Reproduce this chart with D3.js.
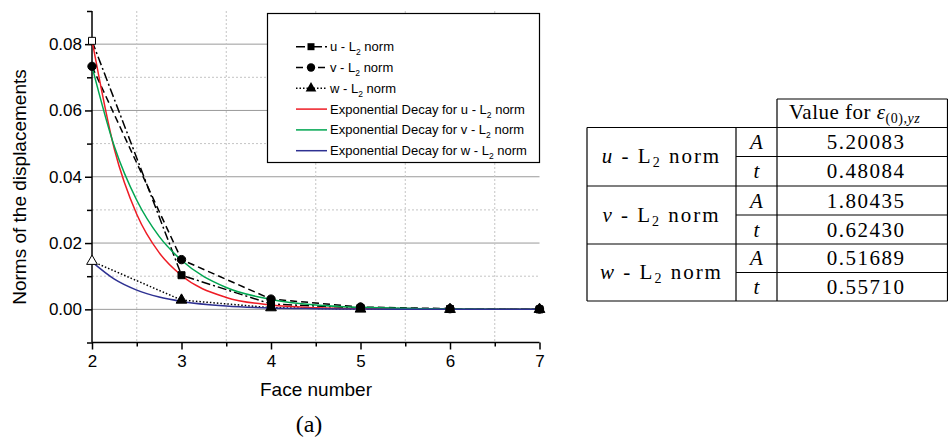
<!DOCTYPE html>
<html>
<head>
<meta charset="utf-8">
<script src="https://cdn.jsdelivr.net/npm/d3@7"></script>
<style>
  body { margin: 0; background: #fff; }
  svg { display: block; }
</style>
</head>
<body>
<svg id="chart" width="948" height="443"></svg>
<script>
// measured face data
var faces = [2, 3, 4, 5, 6, 7];
var uNorm = [0.0810, 0.0103, 0.0016, 0.0004, 0.0001, 0.0000];
var vNorm = [0.0733, 0.0150, 0.0031, 0.0007, 0.0002, 0.0001];
var wNorm = [0.0145, 0.0028, 0.0005, 0.0001, 0.0000, 0.0000];

// exponential decay curves
var fitX = [2, 2.25, 2.5, 2.75, 3, 3.5, 4, 4.5, 5, 6, 7];
var uFit = [0.0812, 0.0483, 0.0287, 0.0171, 0.0102, 0.0036, 0.0013, 0.0005, 0.0002, 0.0000, 0.0000];
var vFit = [0.0733, 0.0491, 0.0329, 0.0220, 0.0148, 0.0066, 0.0030, 0.0013, 0.0006, 0.0001, 0.0000];
var wFit = [0.0143, 0.0091, 0.0058, 0.0037, 0.0024, 0.0010, 0.0004, 0.0002, 0.0001, 0.0000, 0.0000];

var yMajor = [0.00, 0.02, 0.04, 0.06, 0.08];
var yMinor = [-0.01, 0.01, 0.03, 0.05, 0.07, 0.09];
var xMajor = [2, 3, 4, 5, 6, 7];
var xMinor = [2.5, 3.5, 4.5, 5.5, 6.5];

// table
var tableRows = ["u", "v", "w"];
var tableParams = ["A", "t"];
var tableValues = [["5.20083", "0.48084"], ["1.80435", "0.62430"], ["0.51689", "0.55710"]];

var svg = d3.select("#chart");

var x = d3.scaleLinear().domain([2, 7]).range([92, 539.5]);
var y = d3.scaleLinear().domain([-0.01, 0.09]).range([342.5, 11]);

// grid
var grid = svg.append("g");
grid.selectAll("line.hmaj").data(yMajor).enter().append("line")
    .attr("x1", x(2)).attr("x2", x(7))
    .attr("y1", function(d){ return y(d); }).attr("y2", function(d){ return y(d); })
    .attr("stroke", "#9a9a9a").attr("stroke-width", 1);
grid.selectAll("line.hmin").data(yMinor.filter(function(d){ return d > -0.01 && d < 0.09; })).enter().append("line")
    .attr("x1", x(2)).attr("x2", x(7))
    .attr("y1", function(d){ return y(d); }).attr("y2", function(d){ return y(d); })
    .attr("stroke", "#c4c4c4").attr("stroke-width", 1).attr("stroke-dasharray", "2,2");
grid.selectAll("line.vmin").data(xMinor).enter().append("line")
    .attr("x1", function(d){ return x(d); }).attr("x2", function(d){ return x(d); })
    .attr("y1", y(0.09)).attr("y2", y(-0.01))
    .attr("stroke", "#c4c4c4").attr("stroke-width", 1).attr("stroke-dasharray", "2,2");

// axes
var yAxis = d3.axisLeft(y).tickValues(yMajor).tickSize(7).tickPadding(3).tickFormat(d3.format(".2f"));
var yAxisMinor = d3.axisLeft(y).tickValues(yMinor).tickSize(5).tickFormat("");
var xAxis = d3.axisBottom(x).tickValues(xMajor).tickSize(7).tickPadding(5).tickFormat(d3.format("d"));
var xAxisMinor = d3.axisBottom(x).tickValues(xMinor).tickSize(4).tickFormat("");

function styleAxis(g){
    g.select(".domain").attr("stroke", "#000").attr("stroke-width", 1.5);
    g.selectAll(".tick line").attr("stroke", "#000").attr("stroke-width", 1.5);
    g.selectAll("text").attr("font-family", "Liberation Sans, Arial, sans-serif")
        .attr("font-size", 17).attr("fill", "#000");
}
svg.append("g").attr("transform", "translate(" + x(2) + ",0)").call(yAxisMinor).call(styleAxis);
svg.append("g").attr("transform", "translate(" + x(2) + ",0)").call(yAxis).call(styleAxis);
svg.append("g").attr("transform", "translate(0," + y(-0.01) + ")").call(xAxisMinor).call(styleAxis);
svg.append("g").attr("transform", "translate(0," + y(-0.01) + ")").call(xAxis).call(styleAxis);
svg.selectAll(".domain").attr("d", null);
svg.append("line").attr("x1", x(2)).attr("x2", x(2)).attr("y1", y(0.09)).attr("y2", y(-0.01))
    .attr("stroke", "#000").attr("stroke-width", 1.5);
svg.append("line").attr("x1", x(2)).attr("x2", x(7)).attr("y1", y(-0.01)).attr("y2", y(-0.01))
    .attr("stroke", "#000").attr("stroke-width", 1.5);

// axis titles
svg.append("text").attr("transform", "translate(26,187) rotate(-90)")
    .attr("text-anchor", "middle").attr("font-family", "Liberation Sans, Arial, sans-serif")
    .attr("font-size", 19).text("Norms of the displacements");
svg.append("text").attr("x", 316).attr("y", 396)
    .attr("text-anchor", "middle").attr("font-family", "Liberation Sans, Arial, sans-serif")
    .attr("font-size", 19).text("Face number");
svg.append("text").attr("x", 309).attr("y", 432)
    .attr("text-anchor", "middle").attr("font-family", "Liberation Serif, Times New Roman, serif")
    .attr("font-size", 24).text("(a)");

// series
var series = [
    {values: uNorm, dash: "9,3,2,3", marker: "square"},
    {values: vNorm, dash: "7,4", marker: "circle"},
    {values: wNorm, dash: "1.5,2", marker: "triangle"}
];
var fits = [
    {values: uFit, color: "#ee1c25"},
    {values: vFit, color: "#00a651"},
    {values: wFit, color: "#2e3192"}
];

var line = d3.line().x(function(d){ return x(d[0]); }).y(function(d){ return y(d[1]); });
var curve = d3.line().x(function(d){ return x(d[0]); }).y(function(d){ return y(d[1]); }).curve(d3.curveMonotoneX);

var symbolTypes = {square: d3.symbolSquare, circle: d3.symbolCircle, triangle: d3.symbolTriangle};
var symbolSizes = {square: 49, circle: 55, triangle: 50};

series.forEach(function(s){
    svg.append("path").datum(faces.map(function(f, i){ return [f, s.values[i]]; }))
        .attr("d", line).attr("fill", "none").attr("stroke", "#000")
        .attr("stroke-width", 1.5).attr("stroke-dasharray", s.dash);
});
fits.forEach(function(s){
    svg.append("path").datum(fitX.map(function(f, i){ return [f, s.values[i]]; }))
        .attr("d", curve).attr("fill", "none").attr("stroke", s.color).attr("stroke-width", 1.5);
});
series.forEach(function(s){
    svg.selectAll(null).data(faces.map(function(f, i){ return [f, s.values[i]]; })).enter().append("path")
        .attr("transform", function(d){ return "translate(" + x(d[0]) + "," + y(d[1]) + ")"; })
        .attr("d", d3.symbol().type(symbolTypes[s.marker]).size(symbolSizes[s.marker]))
        .attr("fill", function(d, i){ return (i === 0 && s.marker !== "circle") ? "#fff" : "#000"; })
        .attr("stroke", "#000").attr("stroke-width", 1);
});

// legend
var legend = svg.append("g");
legend.append("rect").attr("x", 267.5).attr("y", 13.5).attr("width", 272).attr("height", 149)
    .attr("fill", "#fff").attr("stroke", "#000").attr("stroke-width", 1.2);
var legendItems = [
    {label: "u - L", type: "data", s: series[0]},
    {label: "v - L", type: "data", s: series[1]},
    {label: "w - L", type: "data", s: series[2]},
    {label: "Exponential Decay for u - L", type: "fit", s: fits[0]},
    {label: "Exponential Decay for v - L", type: "fit", s: fits[1]},
    {label: "Exponential Decay for w - L", type: "fit", s: fits[2]}
];
legendItems.forEach(function(it, i){
    var ly = 46.7 + i * 20.8;
    if (it.type === "data") {
        legend.append("line").attr("x1", 296).attr("x2", 327).attr("y1", ly).attr("y2", ly)
            .attr("stroke", "#000").attr("stroke-width", 1.5).attr("stroke-dasharray", it.s.dash);
        legend.append("path").attr("transform", "translate(311," + ly + ")")
            .attr("d", d3.symbol().type(symbolTypes[it.s.marker]).size(symbolSizes[it.s.marker]))
            .attr("fill", "#000");
    } else {
        legend.append("line").attr("x1", 296).attr("x2", 327).attr("y1", ly).attr("y2", ly)
            .attr("stroke", it.s.color).attr("stroke-width", 1.5);
    }
    var t = legend.append("text").attr("x", 330).attr("y", ly + 4.5)
        .attr("font-family", "Liberation Sans, Arial, sans-serif").attr("font-size", 13);
    t.append("tspan").text(it.label);
    t.append("tspan").attr("dy", 4).attr("font-size", 8.5).text("2");
    t.append("tspan").attr("dy", -4).text(" norm");
});

// table
var tb = svg.append("g").attr("font-family", "Liberation Serif, Times New Roman, serif").attr("font-size", 21);
var rowEdges = [127.5, 156.5, 186, 215, 244, 272.5, 301];
var colL = 587, colP = 736, colV = 777, colR = 947.5;
var stroke = function(sel){ return sel.attr("stroke", "#000").attr("stroke-width", 1.2); };

stroke(tb.append("line").attr("x1", colV).attr("x2", colR).attr("y1", 99).attr("y2", 99));
stroke(tb.append("line").attr("x1", colV).attr("x2", colV).attr("y1", 99).attr("y2", 301));
stroke(tb.append("line").attr("x1", colR).attr("x2", colR).attr("y1", 99).attr("y2", 301));
stroke(tb.append("line").attr("x1", colL).attr("x2", colL).attr("y1", 127.5).attr("y2", 301));
stroke(tb.append("line").attr("x1", colP).attr("x2", colP).attr("y1", 127.5).attr("y2", 301));
rowEdges.forEach(function(ry, i){
    var x1 = (i % 2 === 0) ? colL : colP;
    stroke(tb.append("line").attr("x1", x1).attr("x2", colR).attr("y1", ry).attr("y2", ry));
});

var head = tb.append("text").attr("x", 789).attr("y", 119).attr("letter-spacing", 0.5);
head.append("tspan").text("Value for ");
head.append("tspan").attr("font-style", "italic").text("ε");
head.append("tspan").attr("dy", 4).attr("font-size", 14).text("(0),");
head.append("tspan").attr("font-size", 14).attr("font-style", "italic").text("yz");

tableRows.forEach(function(r, i){
    var top = rowEdges[i * 2], mid = rowEdges[i * 2 + 1], bot = rowEdges[i * 2 + 2];
    var lab = tb.append("text").attr("x", (colL + colP) / 2).attr("y", mid + 6.5)
        .attr("text-anchor", "middle").attr("letter-spacing", 2);
    lab.append("tspan").attr("font-style", "italic").text(r);
    lab.append("tspan").text(" - L");
    lab.append("tspan").attr("dy", 4).attr("font-size", 14).text("2");
    lab.append("tspan").attr("dy", -4).text(" norm");
    tableParams.forEach(function(p, j){
        var cy = j === 0 ? (top + mid) / 2 : (mid + bot) / 2;
        tb.append("text").attr("x", (colP + colV) / 2).attr("y", cy + 7)
            .attr("text-anchor", "middle").attr("font-style", "italic").text(p);
        tb.append("text").attr("x", 866).attr("y", cy + 7)
            .attr("text-anchor", "middle").attr("letter-spacing", 1.5).text(tableValues[i][j]);
    });
});
</script>
</body>
</html>
